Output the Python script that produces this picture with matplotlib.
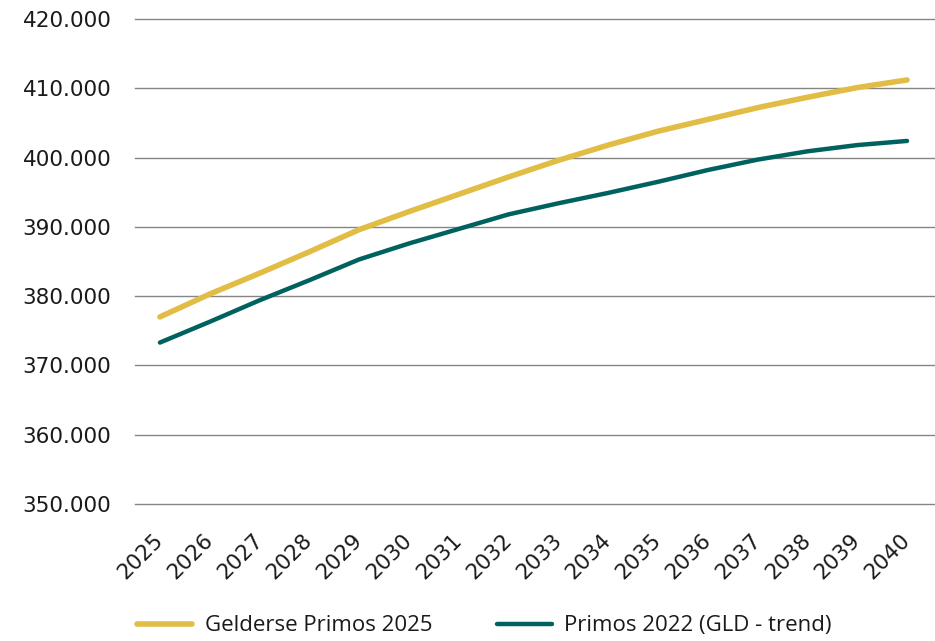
import matplotlib
matplotlib.use("Agg")
import matplotlib.pyplot as plt
from matplotlib.ticker import FuncFormatter

years = list(range(2025, 2041))
gelderse_2025 = [377.0, 380.3, 383.3, 386.4, 389.6, 392.2, 394.7, 397.2,
                 399.6, 401.8, 403.8, 405.5, 407.2, 408.7, 410.1, 411.2]
primos_2022 = [373.3, 376.3, 379.4, 382.3, 385.3, 387.6, 389.7, 391.8,
               393.4, 394.9, 396.5, 398.2, 399.7, 400.9, 401.8, 402.4]
labels = ["Gelderse Primos 2025", "Primos 2022 (GLD - trend)"]

txt = "#1a1a1a"
plt.rcParams["font.family"] = ["DejaVu Sans"]
plt.rcParams["text.color"] = txt

fig = plt.figure(figsize=(9.35, 6.41), dpi=100)
ax = fig.add_axes([0.1444, 0.2137, 0.855, 0.7567])

ax.plot(years, [v * 1000 for v in gelderse_2025], color="#E2BD45",
        lw=4.0, solid_capstyle="round", label=labels[0], zorder=3)
ax.plot(years, [v * 1000 for v in primos_2022], color="#00625F",
        lw=3.2, solid_capstyle="round", label=labels[1], zorder=3)

ax.set_ylim(350000, 420000)
ax.set_yticks(range(350000, 420001, 10000))
ax.yaxis.set_major_formatter(FuncFormatter(lambda v, p: f"{int(v):,}".replace(",", ".")))
ax.set_xlim(2024.5, 2040.55)
ax.set_xticks(years)
ax.set_xticklabels([str(y) for y in years], rotation=45, ha="right",
                   va="center", rotation_mode="anchor")

ax.grid(axis="y", color="#858585", lw=1.0)
for gl in ax.yaxis.get_gridlines():
    gl.set_clip_on(False)
ax.set_axisbelow(True)
for s in ax.spines.values():
    s.set_visible(False)
ax.tick_params(axis="both", length=0, labelsize=15.5, colors=txt)
ax.tick_params(axis="y", pad=17)
ax.tick_params(axis="x", pad=24)

fig.legend(loc="lower center", ncol=2, frameon=False,
           prop={"family": "Open Sans", "size": 16},
           handlelength=2.5, handletextpad=0.55, columnspacing=2.9,
           bbox_to_anchor=(0.518, -0.024))

fig.savefig("out.png", dpi=100)
